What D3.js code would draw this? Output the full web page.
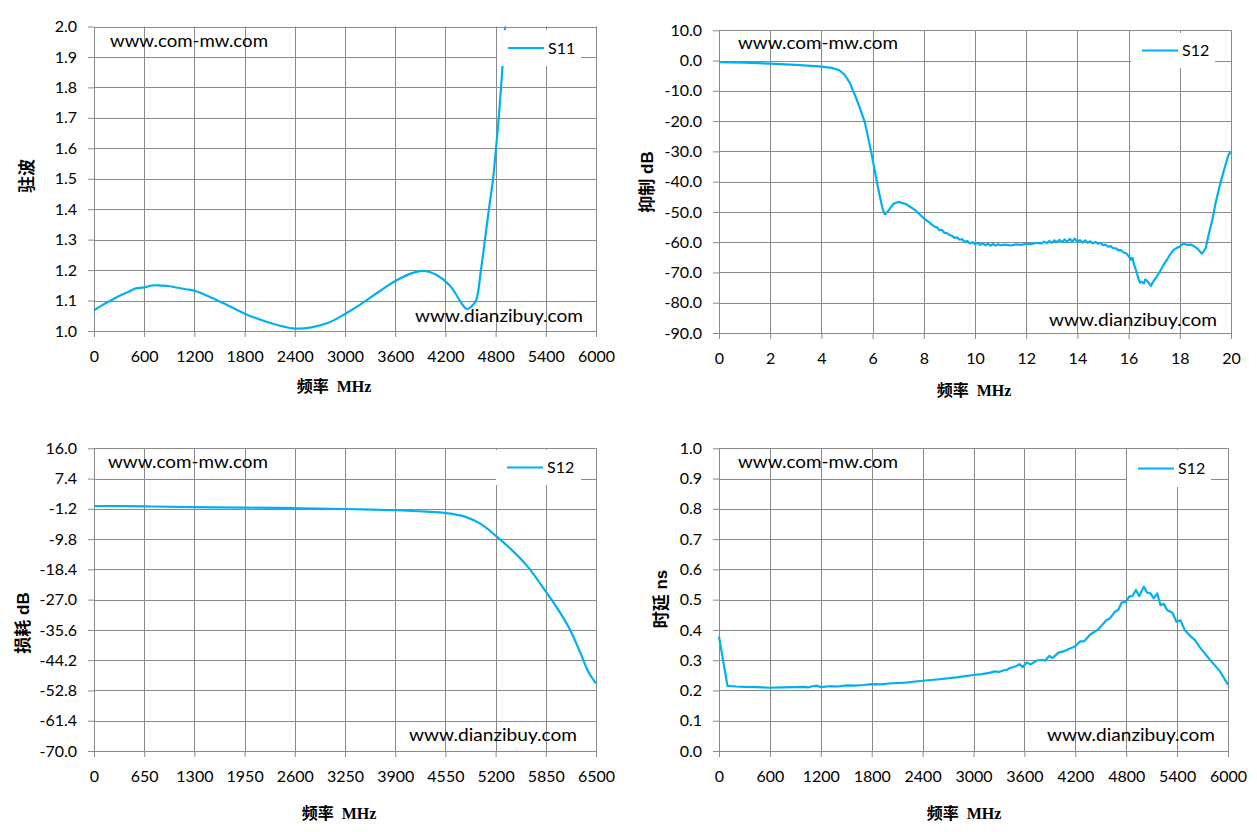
<!DOCTYPE html>
<html>
<head>
<meta charset="utf-8">
<script src="https://cdn.jsdelivr.net/npm/d3@7"></script>
<style>
  body { margin: 0; background: #fff; }
  svg { display: block; }
</style>
</head>
<body>
<div id="chart"></div>
<script>
// ---- data ----

// top-left: S11 VSWR
const s11Freq = [0, 100, 200, 300, 400, 500, 600, 700, 800, 900, 1000, 1100, 1200, 1400, 1600, 1800,
  2000, 2200, 2400, 2600, 2800, 3000, 3200, 3400, 3600, 3800, 3950, 4100, 4250, 4350, 4400, 4458, 4510,
  4566, 4625, 4673, 4720, 4770, 4805, 4838, 4865, 4890, 4914, 4935];
const s11Vswr = [1.068, 1.085, 1.100, 1.115, 1.127, 1.140, 1.143, 1.150, 1.149, 1.147, 1.142, 1.137, 1.132, 1.110, 1.084, 1.057,
  1.036, 1.019, 1.008, 1.012, 1.027, 1.056, 1.090, 1.128, 1.164, 1.190, 1.197, 1.183, 1.150, 1.110, 1.088, 1.072, 1.080,
  1.100, 1.200, 1.300, 1.400, 1.500, 1.600, 1.700, 1.800, 1.900, 2.000, 2.100];

// top-right: S12 rejection
const rejFreq = [0, 1, 2, 3, 4, 4.4, 4.7, 4.9, 5.1, 5.3, 5.5, 5.7, 5.94, 6.1, 6.2, 6.3, 6.4, 6.48, 6.6, 6.8, 7.0, 7.3, 7.65,
  8.0, 8.2, 8.4, 8.5, 8.6, 8.7, 8.8, 8.9, 9.0, 9.1, 9.2, 9.3, 9.4, 9.5, 9.6, 9.7, 9.8, 9.9,
  10.0, 10.1, 10.2, 10.3, 10.4, 10.5, 10.6, 10.7, 10.8, 10.9, 11.0, 11.2, 11.4, 11.6, 11.8,
  12.0, 12.2, 12.4, 12.6, 12.7, 12.8, 12.9, 13.0, 13.1, 13.2, 13.3, 13.4, 13.5, 13.6, 13.7, 13.8, 13.9,
  14.0, 14.1, 14.2, 14.3, 14.4, 14.5, 14.6, 14.7, 14.8, 14.9, 15.0, 15.1, 15.2, 15.3, 15.4, 15.5,
  15.6, 15.7, 15.8, 15.9, 16.0, 16.1, 16.15, 16.2, 16.3, 16.4, 16.45, 16.5, 16.6, 16.65, 16.7, 16.8,
  16.87, 16.95, 17.06, 17.2, 17.32, 17.4, 17.5, 17.6, 17.71, 17.8, 17.9, 18.0, 18.1, 18.17, 18.3,
  18.45, 18.56, 18.7, 18.8, 18.86, 18.95, 19.01, 19.1, 19.27, 19.4, 19.6, 19.8, 19.9, 20.0];
const rejDb = [-0.5, -0.7, -1.0, -1.4, -2.0, -2.4, -3.2, -4.6, -7.2, -11.2, -15.6, -20.5, -30.0, -37.0, -41.5, -45.5, -49.3, -50.8, -49.8, -47.4, -46.7, -47.4, -49.3,
  -52.1, -53.4, -54.8, -55.0, -56.0, -55.9, -56.9, -57.0, -57.6, -57.9, -58.6, -58.4, -59.2, -59.0, -59.9, -59.6, -60.4, -60.0,
  -60.6, -60.2, -60.9, -60.4, -61.0, -60.5, -61.1, -60.6, -61.1, -60.7, -61.0, -60.8, -61.1, -60.7, -60.9,
  -60.5, -60.7, -60.2, -60.4, -59.8, -60.3, -59.6, -60.2, -59.4, -60.0, -59.2, -60.0, -59.1, -59.9, -58.9, -59.8, -58.8,
  -59.9, -59.3, -60.1, -59.4, -60.2, -59.7, -60.4, -59.9, -60.5, -60.2, -61.0, -60.8, -61.5, -61.3, -62.0, -62.0,
  -62.7, -62.6, -63.4, -63.6, -64.6, -65.8, -65.2, -67.0, -69.5, -72.5, -73.4, -73.0, -73.6, -72.3, -72.6, -73.6,
  -74.4, -73.2, -71.9, -70.0, -68.2, -67.0, -65.8, -64.4, -63.0, -62.3, -61.8, -61.4, -60.7, -60.5, -60.9,
  -60.8, -61.4, -62.2, -63.2, -63.8, -62.8, -62.0, -58.5, -52.6, -47.0, -40.0, -34.0, -31.2, -30.0];

// bottom-left: S12 insertion loss
const lossFreq = [0, 650, 1300, 1950, 2600, 3250, 3900, 4300, 4550, 4800, 5000, 5200, 5400, 5600, 5850,
  6000, 6150, 6300, 6400, 6500];
const lossDb = [-0.4, -0.5, -0.7, -0.85, -1.0, -1.25, -1.6, -2.0, -2.4, -3.4, -5.4, -8.8, -12.7, -17.2, -24.7,
  -29.5, -35.0, -42.2, -47.5, -50.8];

// bottom-right: S12 group delay
const delayFreq = [0, 100, 200, 300, 450, 600, 750, 900, 1000, 1050, 1100, 1150, 1200, 1300, 1400, 1500,
  1600, 1700, 1800, 1900, 2000, 2200, 2400, 2600, 2800, 3000, 3100, 3200, 3250, 3300, 3350, 3400,
  3431, 3510, 3541, 3580, 3627, 3674, 3745, 3823, 3843, 3894, 3933, 4000, 4059, 4118, 4196, 4255,
  4302, 4373, 4471, 4569, 4608, 4667, 4706, 4745, 4796, 4835, 4874, 4914, 4953, 5008, 5047, 5086,
  5125, 5165, 5204, 5243, 5282, 5345, 5392, 5439, 5490, 5569, 5608, 5667, 5788, 5906, 6000];
const delayNs = [0.378, 0.215, 0.213, 0.212, 0.211, 0.209, 0.210, 0.211, 0.212, 0.210, 0.214, 0.216, 0.211, 0.214, 0.213, 0.217,
  0.216, 0.218, 0.221, 0.220, 0.223, 0.226, 0.232, 0.237, 0.243, 0.251, 0.254, 0.259, 0.263, 0.261, 0.266, 0.269,
  0.274, 0.281, 0.287, 0.277, 0.292, 0.286, 0.299, 0.301, 0.298, 0.314, 0.307, 0.325, 0.329, 0.336, 0.345, 0.362,
  0.362, 0.384, 0.402, 0.433, 0.438, 0.460, 0.466, 0.490, 0.493, 0.510, 0.512, 0.532, 0.512, 0.543, 0.523, 0.521,
  0.504, 0.521, 0.482, 0.486, 0.466, 0.457, 0.427, 0.432, 0.400, 0.376, 0.367, 0.343, 0.301, 0.263, 0.219];

// tick labels
const xTicks1 = [0, 600, 1200, 1800, 2400, 3000, 3600, 4200, 4800, 5400, 6000];
const yTicks1 = [1.0, 1.1, 1.2, 1.3, 1.4, 1.5, 1.6, 1.7, 1.8, 1.9, 2.0];
const xTicks2 = [0, 2, 4, 6, 8, 10, 12, 14, 16, 18, 20];
const yTicks2 = [-90, -80, -70, -60, -50, -40, -30, -20, -10, 0, 10];
const xTicks3 = [0, 650, 1300, 1950, 2600, 3250, 3900, 4550, 5200, 5850, 6500];
const yTicks3 = [-70.0, -61.4, -52.8, -44.2, -35.6, -27.0, -18.4, -9.8, -1.2, 7.4, 16.0];
const xTicks4 = [0, 600, 1200, 1800, 2400, 3000, 3600, 4200, 4800, 5400, 6000];
const yTicks4 = [0.0, 0.1, 0.2, 0.3, 0.4, 0.5, 0.6, 0.7, 0.8, 0.9, 1.0];

// ---- drawing ----
const W = 1257, H = 832;
const lineColor = '#00b0f0';
const gridColor = '#898989';
const tickFont = "Lato, 'Open sans', sans-serif";
const cjkFont = "'Noto Sans CJK SC', sans-serif";

const svg = d3.select('#chart').append('svg')
  .attr('width', W)
  .attr('height', H);

const panels = [
  {
    id: 'p1', left: 94, right: 596, top: 26.5, bottom: 331,
    xDomain: [0, 6000], yDomain: [1, 2], xTicks: xTicks1, yTicks: yTicks1,
    xs: s11Freq, ys: s11Vswr, curve: d3.curveCatmullRom.alpha(0.5),
    yTitle: ['驻波', ''], yTitlePos: [27, 176], xTitlePos: [334, 386],
    legend: { x: 497, y: 30, w: 84, h: 36, label: 'S11' },
    wm1: [110, 47, 158], wm2: [415, 322, 168]
  },
  {
    id: 'p2', left: 719, right: 1231, top: 30.3, bottom: 333,
    xDomain: [0, 20], yDomain: [-90, 10], xTicks: xTicks2, yTicks: yTicks2,
    xs: rejFreq, ys: rejDb, curve: d3.curveLinear,
    yTitle: ['抑制', ' dB'], yTitlePos: [647, 182], xTitlePos: [974, 390],
    legend: { x: 1131, y: 33, w: 84, h: 35, label: 'S12' },
    wm1: [738, 49, 160], wm2: [1049, 326, 168]
  },
  {
    id: 'p3', left: 94, right: 596, top: 448.3, bottom: 751,
    xDomain: [0, 6500], yDomain: [-70, 16], xTicks: xTicks3, yTicks: yTicks3,
    xs: lossFreq, ys: lossDb, curve: d3.curveCatmullRom.alpha(0.5),
    yTitle: ['损耗', ' dB'], yTitlePos: [23, 623], xTitlePos: [339, 813],
    legend: { x: 496, y: 450, w: 85, h: 35, label: 'S12' },
    wm1: [108, 468, 160], wm2: [409, 741, 168]
  },
  {
    id: 'p4', left: 719, right: 1228, top: 448.3, bottom: 751,
    xDomain: [0, 6000], yDomain: [0, 1], xTicks: xTicks4, yTicks: yTicks4,
    xs: delayFreq, ys: delayNs, curve: d3.curveLinear,
    yTitle: ['时延', ' ns'], yTitlePos: [661, 599], xTitlePos: [964, 813],
    legend: { x: 1127, y: 450, w: 84, h: 37, label: 'S12' },
    wm1: [738, 468, 160], wm2: [1047, 741, 168]
  }
];

panels.forEach(p => drawPanel(p));

function drawPanel(p) {
  const x = d3.scaleLinear().domain(p.xDomain).range([p.left, p.right]);
  const y = d3.scaleLinear().domain(p.yDomain).range([p.bottom, p.top]);
  const g = svg.append('g').attr('class', p.id);

  // gridlines
  g.append('g')
    .selectAll('line.hg')
    .data(p.yTicks.slice(1))
    .enter().append('line')
    .attr('x1', p.left).attr('x2', p.right)
    .attr('y1', d => Math.round(y(d)) + 0.5).attr('y2', d => Math.round(y(d)) + 0.5)
    .attr('stroke', gridColor).attr('stroke-width', 1);
  g.append('g')
    .selectAll('line.vg')
    .data(p.xTicks.slice(1))
    .enter().append('line')
    .attr('x1', d => Math.round(x(d)) + 0.5).attr('x2', d => Math.round(x(d)) + 0.5)
    .attr('y1', p.top).attr('y2', p.bottom)
    .attr('stroke', gridColor).attr('stroke-width', 1);

  // axes
  const yAxis = g.append('g')
    .attr('transform', `translate(${Math.round(p.left)},0)`)
    .call(d3.axisLeft(y).tickValues(p.yTicks).tickSize(6).tickSizeOuter(0)
      .tickPadding(11).tickFormat(d => d.toFixed(1)));
  const xAxis = g.append('g')
    .attr('transform', `translate(0,${Math.round(p.bottom)})`)
    .call(d3.axisBottom(x).tickValues(p.xTicks).tickSize(6).tickSizeOuter(0)
      .tickPadding(14).tickFormat(d => String(d)));
  [yAxis, xAxis].forEach(a => {
    a.selectAll('.domain').attr('stroke', gridColor);
    a.selectAll('.tick line').attr('stroke', gridColor);
    a.selectAll('text')
      .attr('fill', '#000')
      .style('font-family', tickFont)
      .style('font-size', '16px');
  });

  // watermarks (drawn over the grid)
  [p.wm1, p.wm2].forEach((w, i) => {
    g.append('text')
      .attr('x', w[0]).attr('y', w[1])
      .attr('textLength', w[2]).attr('lengthAdjust', 'spacingAndGlyphs')
      .style('font-family', tickFont).style('font-size', '17px')
      .attr('fill', '#000')
      .text(i === 0 ? 'www.com-mw.com' : 'www.dianzibuy.com');
  });

  // series line, clipped to the plot area
  const clipId = 'clip-' + p.id;
  svg.append('clipPath').attr('id', clipId)
    .append('rect')
    .attr('x', p.left - 2).attr('y', p.top)
    .attr('width', p.right - p.left + 4).attr('height', p.bottom - p.top + 2);

  const pts = p.xs.map((f, i) => [f, p.ys[i]]);
  const line = d3.line().x(d => x(d[0])).y(d => y(d[1])).curve(p.curve);
  g.append('path')
    .datum(pts)
    .attr('clip-path', `url(#${clipId})`)
    .attr('d', line)
    .attr('fill', 'none')
    .attr('stroke', lineColor)
    .attr('stroke-width', 2.2)
    .attr('stroke-linejoin', 'round');

  // legend box sits on top of everything
  const lg = p.legend;
  g.append('rect')
    .attr('x', lg.x).attr('y', lg.y).attr('width', lg.w).attr('height', lg.h)
    .attr('fill', '#fff');
  const ly = lg.y + lg.h / 2;
  g.append('line')
    .attr('x1', lg.x + 11).attr('x2', lg.x + 47)
    .attr('y1', ly).attr('y2', ly)
    .attr('stroke', lineColor).attr('stroke-width', 2.2);
  g.append('text')
    .attr('x', lg.x + 51).attr('y', ly).attr('dy', '0.36em')
    .style('font-family', tickFont).style('font-size', '16px')
    .attr('fill', '#000')
    .text(lg.label);

  // y axis title (rotated)
  const yt = g.append('text')
    .attr('transform', `translate(${p.yTitlePos[0]},${p.yTitlePos[1]}) rotate(-90)`)
    .attr('text-anchor', 'middle').attr('dy', '0.36em')
    .style('font-weight', 'bold').style('font-size', '17px')
    .attr('fill', '#000');
  yt.append('tspan').style('font-family', cjkFont).text(p.yTitle[0]);
  if (p.yTitle[1]) {
    yt.append('tspan').style('font-family', "'Liberation Sans', Arial, sans-serif").text(p.yTitle[1]);
  }

  // x axis title
  const xt = g.append('text')
    .attr('x', p.xTitlePos[0]).attr('y', p.xTitlePos[1]).attr('dy', '0.36em')
    .attr('text-anchor', 'middle')
    .style('font-weight', 'bold').style('font-size', '16px')
    .attr('fill', '#000');
  xt.append('tspan').style('font-family', cjkFont).text('频率');
  xt.append('tspan').style('font-family', "'Liberation Serif', serif").attr('dx', 8).text('MHz');
}
</script>
</body>
</html>
